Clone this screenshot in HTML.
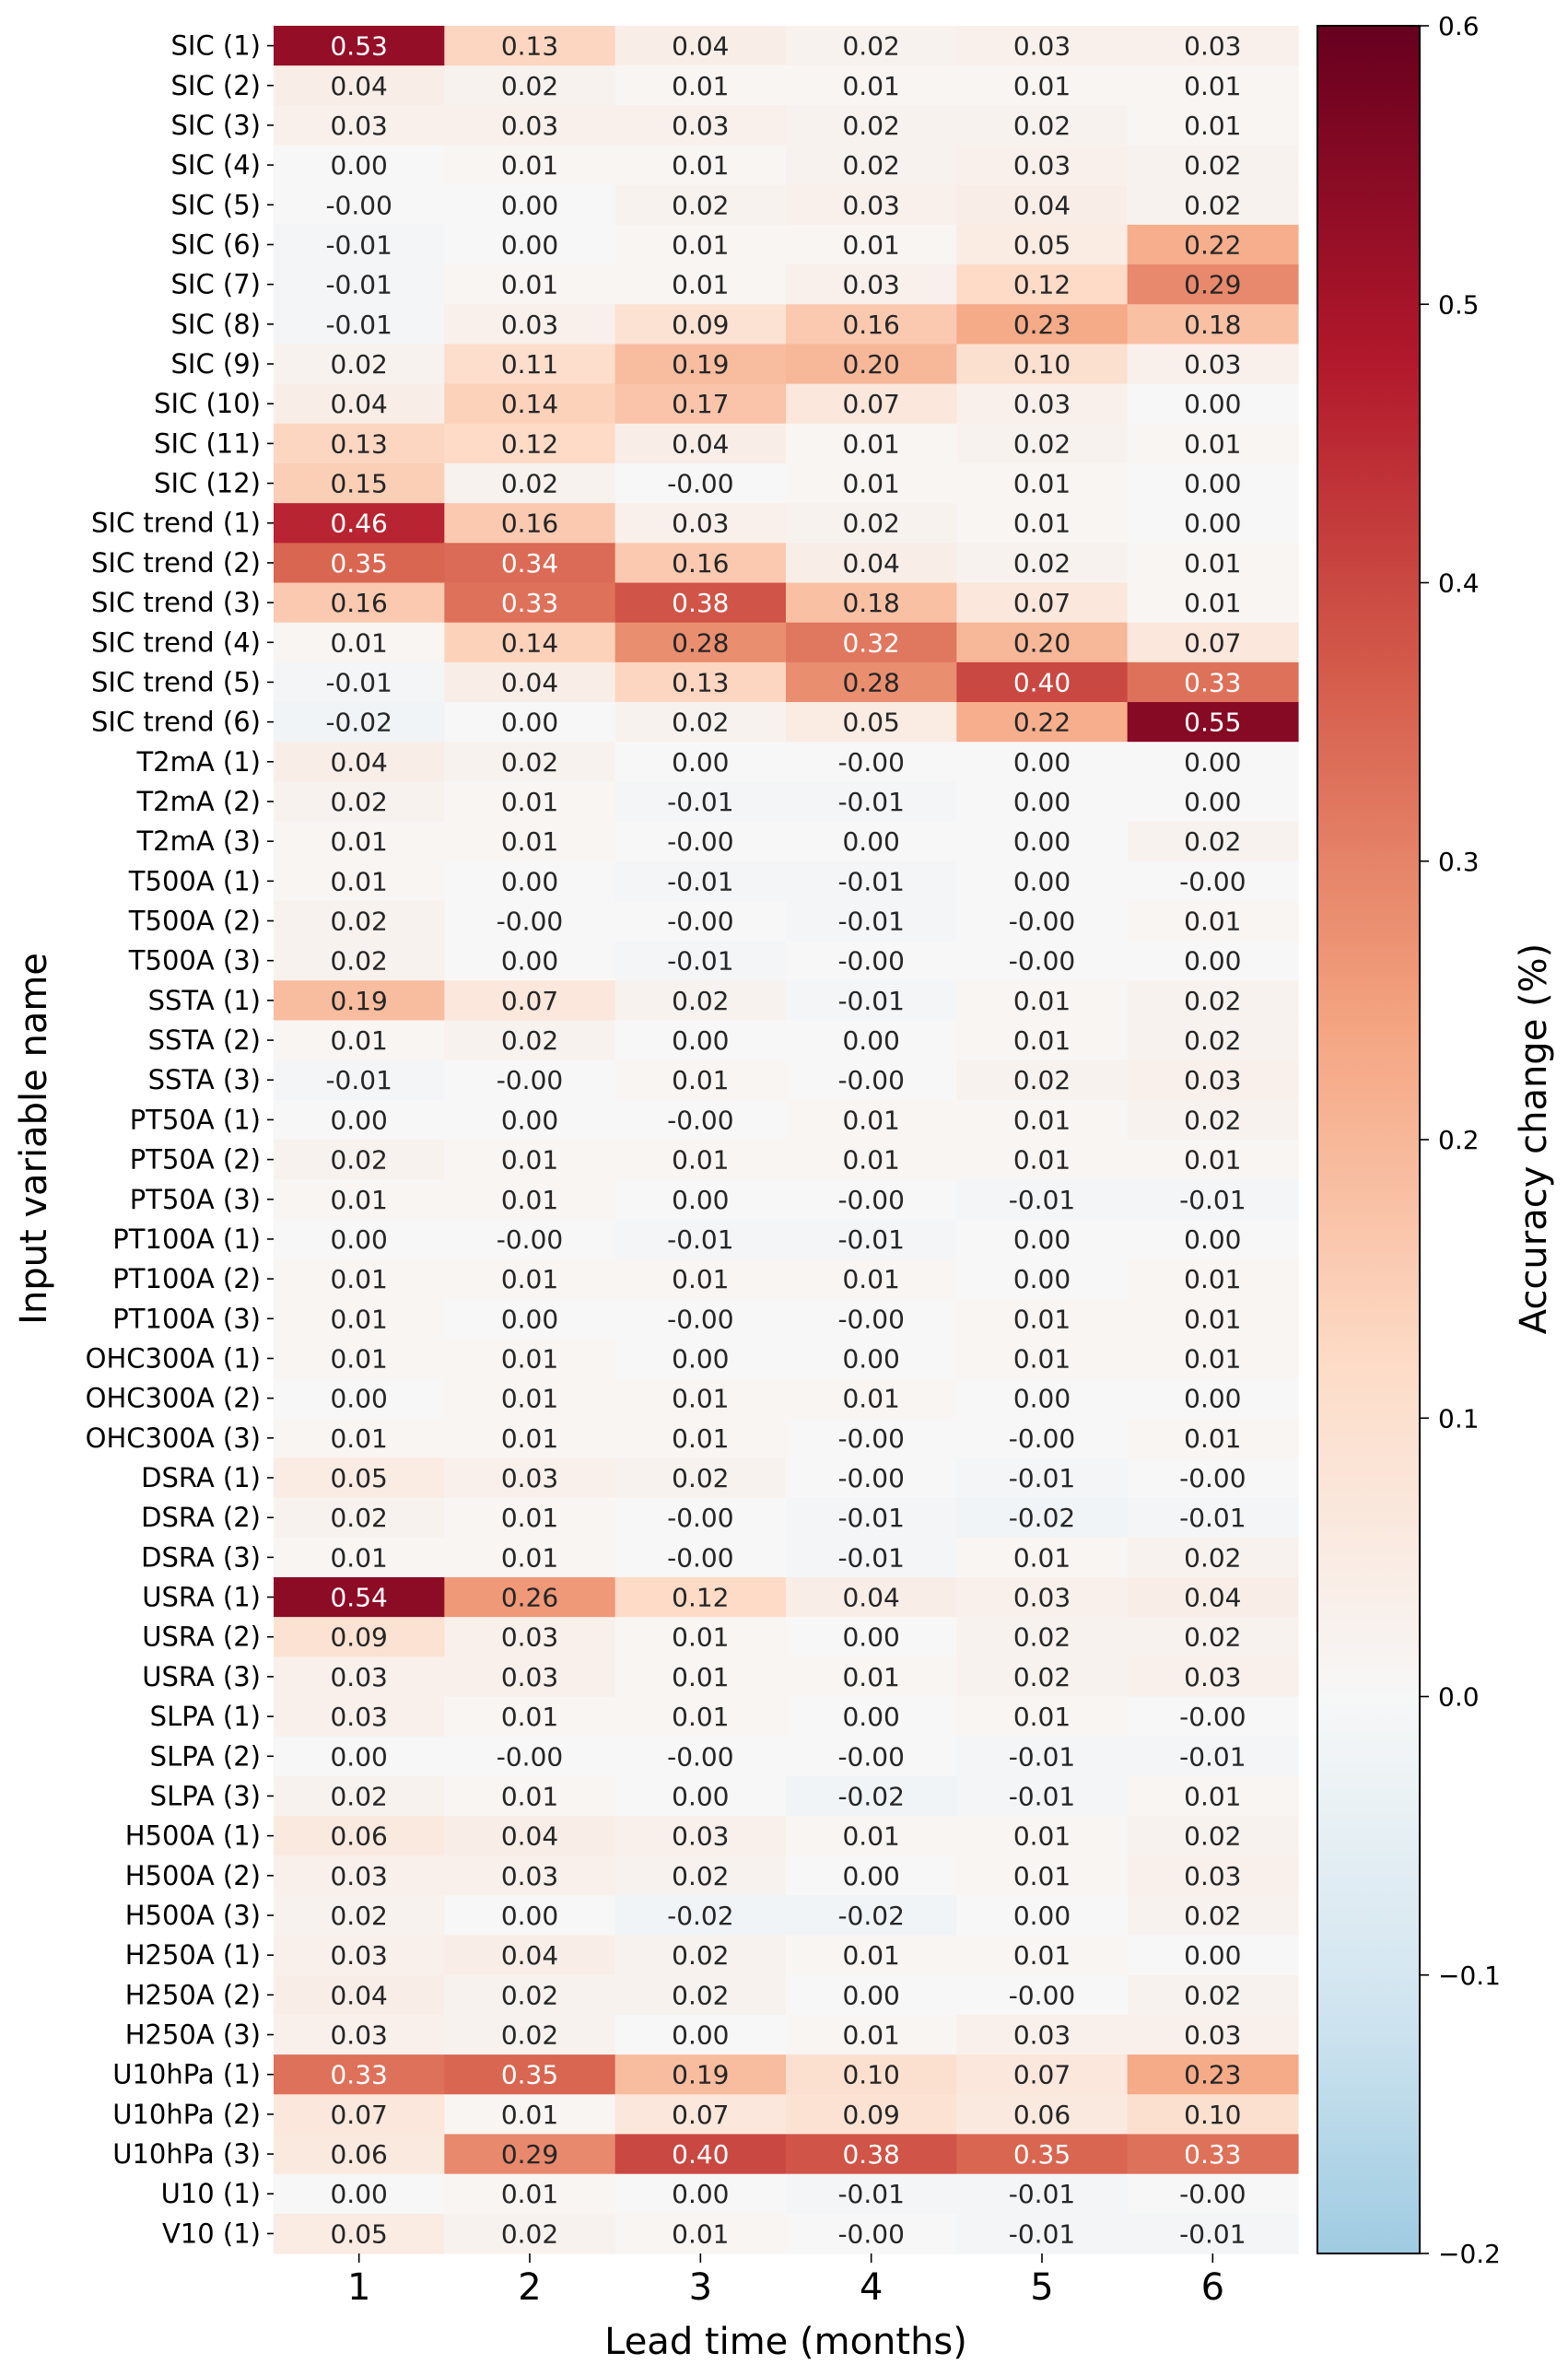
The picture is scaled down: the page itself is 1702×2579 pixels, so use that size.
<!DOCTYPE html>
<html><head><meta charset="utf-8"><style>
html,body{margin:0;padding:0;background:#fff;}
svg{display:block;font-family:"DejaVu Sans","Liberation Sans",sans-serif;}
</style></head><body>
<svg id="chart" width="1702" height="2579" viewBox="0 0 1702 2579" xmlns="http://www.w3.org/2000/svg">
<defs>
<linearGradient id="cbgrad" x1="0" y1="1" x2="0" y2="0"></linearGradient>
</defs>
<g id="cells"></g>
<g id="yaxis"></g>
<g id="xaxis"></g>
<g id="cbar"></g>
<text x="0" y="0" font-size="40" text-anchor="middle" transform="translate(50,1236) rotate(-90)">Input variable name</text>
<text x="853" y="2555" font-size="40" text-anchor="middle">Lead time (months)</text>
<text x="0" y="0" font-size="40" text-anchor="middle" transform="translate(1678,1236) rotate(-90)">Accuracy change (%)</text>
</svg>
<script>
const rowLabels = ["SIC (1)","SIC (2)","SIC (3)","SIC (4)","SIC (5)","SIC (6)","SIC (7)","SIC (8)","SIC (9)","SIC (10)","SIC (11)","SIC (12)","SIC trend (1)","SIC trend (2)","SIC trend (3)","SIC trend (4)","SIC trend (5)","SIC trend (6)","T2mA (1)","T2mA (2)","T2mA (3)","T500A (1)","T500A (2)","T500A (3)","SSTA (1)","SSTA (2)","SSTA (3)","PT50A (1)","PT50A (2)","PT50A (3)","PT100A (1)","PT100A (2)","PT100A (3)","OHC300A (1)","OHC300A (2)","OHC300A (3)","DSRA (1)","DSRA (2)","DSRA (3)","USRA (1)","USRA (2)","USRA (3)","SLPA (1)","SLPA (2)","SLPA (3)","H500A (1)","H500A (2)","H500A (3)","H250A (1)","H250A (2)","H250A (3)","U10hPa (1)","U10hPa (2)","U10hPa (3)","U10 (1)","V10 (1)"];
const leadTimes = ["1","2","3","4","5","6"];
const Z = -0.001;
const values = [
[.53,.13,.04,.02,.03,.03],
[.04,.02,.01,.01,.01,.01],
[.03,.03,.03,.02,.02,.01],
[.00,.01,.01,.02,.03,.02],
[Z,.00,.02,.03,.04,.02],
[-.01,.00,.01,.01,.05,.22],
[-.01,.01,.01,.03,.12,.29],
[-.01,.03,.09,.16,.23,.18],
[.02,.11,.19,.20,.10,.03],
[.04,.14,.17,.07,.03,.00],
[.13,.12,.04,.01,.02,.01],
[.15,.02,Z,.01,.01,.00],
[.46,.16,.03,.02,.01,.00],
[.35,.34,.16,.04,.02,.01],
[.16,.33,.38,.18,.07,.01],
[.01,.14,.28,.32,.20,.07],
[-.01,.04,.13,.28,.40,.33],
[-.02,.00,.02,.05,.22,.55],
[.04,.02,.00,Z,.00,.00],
[.02,.01,-.01,-.01,.00,.00],
[.01,.01,Z,.00,.00,.02],
[.01,.00,-.01,-.01,.00,Z],
[.02,Z,Z,-.01,Z,.01],
[.02,.00,-.01,Z,Z,.00],
[.19,.07,.02,-.01,.01,.02],
[.01,.02,.00,.00,.01,.02],
[-.01,Z,.01,Z,.02,.03],
[.00,.00,Z,.01,.01,.02],
[.02,.01,.01,.01,.01,.01],
[.01,.01,.00,Z,-.01,-.01],
[.00,Z,-.01,-.01,.00,.00],
[.01,.01,.01,.01,.00,.01],
[.01,.00,Z,Z,.01,.01],
[.01,.01,.00,.00,.01,.01],
[.00,.01,.01,.01,.00,.00],
[.01,.01,.01,Z,Z,.01],
[.05,.03,.02,Z,-.01,Z],
[.02,.01,Z,-.01,-.02,-.01],
[.01,.01,Z,-.01,.01,.02],
[.54,.26,.12,.04,.03,.04],
[.09,.03,.01,.00,.02,.02],
[.03,.03,.01,.01,.02,.03],
[.03,.01,.01,.00,.01,Z],
[.00,Z,Z,Z,-.01,-.01],
[.02,.01,.00,-.02,-.01,.01],
[.06,.04,.03,.01,.01,.02],
[.03,.03,.02,.00,.01,.03],
[.02,.00,-.02,-.02,.00,.02],
[.03,.04,.02,.01,.01,.00],
[.04,.02,.02,.00,Z,.02],
[.03,.02,.00,.01,.03,.03],
[.33,.35,.19,.10,.07,.23],
[.07,.01,.07,.09,.06,.10],
[.06,.29,.40,.38,.35,.33],
[.00,.01,.00,-.01,-.01,Z],
[.05,.02,.01,Z,-.01,-.01]
];
const cbTicks = [0.6,0.5,0.4,0.3,0.2,0.1,0.0,-0.1,-0.2];

const NS="http://www.w3.org/2000/svg";
const X0=297, X1=1409, Y0=28, Y1=2446;
const VMIN=-0.2, VMAX=0.6;
const cw=(X1-X0)/leadTimes.length, rh=(Y1-Y0)/rowLabels.length;
function xPos(i){return X0+i*cw;}
function yPos(j){return Y0+j*rh;}
const stops=[[0,"#053061"],[0.1,"#2166ac"],[0.2,"#4393c3"],[0.3,"#92c5de"],[0.4,"#d1e5f0"],[0.5,"#f7f7f7"],[0.6,"#fddbc7"],[0.7,"#f4a582"],[0.8,"#d6604d"],[0.9,"#b2182b"],[1,"#67001f"]];
function hex(h){return [1,3,5].map(k=>parseInt(h.substr(k,2),16));}
function cmapIdx(v){return v>=0?0.5+Math.min(v,VMAX)/VMAX*0.5:0.5+Math.max(v,VMIN)/(-VMIN)*0.18;}
function colorRGB(v){
  const t=cmapIdx(v);
  for(let k=0;k<stops.length-1;k++){
    if(t<=stops[k+1][0]){
      const a=hex(stops[k][1]),b=hex(stops[k+1][1]),f=(t-stops[k][0])/(stops[k+1][0]-stops[k][0]);
      return a.map((c,i)=>Math.round(c+(b[i]-c)*f));
    }
  }
  return hex(stops[stops.length-1][1]);
}
function color(v){const c=colorRGB(v);return `rgb(${c[0]},${c[1]},${c[2]})`;}
function mk(tag,attrs,parent){const e=document.createElementNS(NS,tag);for(const k in attrs)e.setAttribute(k,attrs[k]);parent.appendChild(e);return e;}

const cells=document.getElementById('cells');
values.forEach((row,j)=>{
  row.forEach((v,i)=>{
    const r=mk('rect',{x:xPos(i),y:yPos(j),width:cw+0.6,height:rh+0.6,fill:color(v)},cells);
    
    
    const c=colorRGB(v);const lum=0.299*c[0]+0.587*c[1]+0.114*c[2];
    const t=mk('text',{x:xPos(i)+cw/2,y:yPos(j)+rh/2+10,'font-size':28,'text-anchor':'middle',fill:lum<150?'#ffffff':'#262626'},cells);
    t.textContent=v.toFixed(2);
    
    
  });
});
const ya=document.getElementById('yaxis');
rowLabels.forEach((l,j)=>{
  const yc=yPos(j)+rh/2;
  const tk=mk('line',{x1:X0-7,x2:X0,y1:yc,y2:yc,stroke:'#000','stroke-width':1.6},ya);
  
  
  const t=mk('text',{x:X0-14,y:yc+10,'font-size':29,'text-anchor':'end',fill:'#000'},ya);
  t.textContent=l;
  
  
});
const xa=document.getElementById('xaxis');
leadTimes.forEach((l,i)=>{
  const xc=xPos(i)+cw/2;
  const tk=mk('line',{x1:xc,x2:xc,y1:Y1,y2:Y1+10,stroke:'#000','stroke-width':1.6},xa);
  
  
  const t=mk('text',{x:xc,y:Y1+50,'font-size':40,'text-anchor':'middle',fill:'#000'},xa);
  t.textContent=l;
  
  
});
const CX0=1430, CX1=1541;
const grad=document.getElementById('cbgrad');
for(let k=0;k<=40;k++){
  const v=VMIN+(VMAX-VMIN)*k/40;
  mk('stop',{offset:(k/40),'stop-color':color(v)},grad);
}
const cb=document.getElementById('cbar');
function cbY(v){return Y1-(v-VMIN)/(VMAX-VMIN)*(Y1-Y0);}
const cr=mk('rect',{x:CX0,y:Y0,width:CX1-CX0,height:Y1-Y0,fill:'url(#cbgrad)',stroke:'#000','stroke-width':2},cb);


cbTicks.forEach(v=>{
  const y=cbY(v);
  const tk=mk('line',{x1:CX1,x2:CX1+10,y1:y,y2:y,stroke:'#000','stroke-width':1.6},cb);
  
  
  const t=mk('text',{x:CX1+20,y:y+10,'font-size':28,fill:'#000'},cb);
  t.textContent=(v<0?'\u2212':'')+Math.abs(v).toFixed(1);
  
  
});
</script>
</body></html>
